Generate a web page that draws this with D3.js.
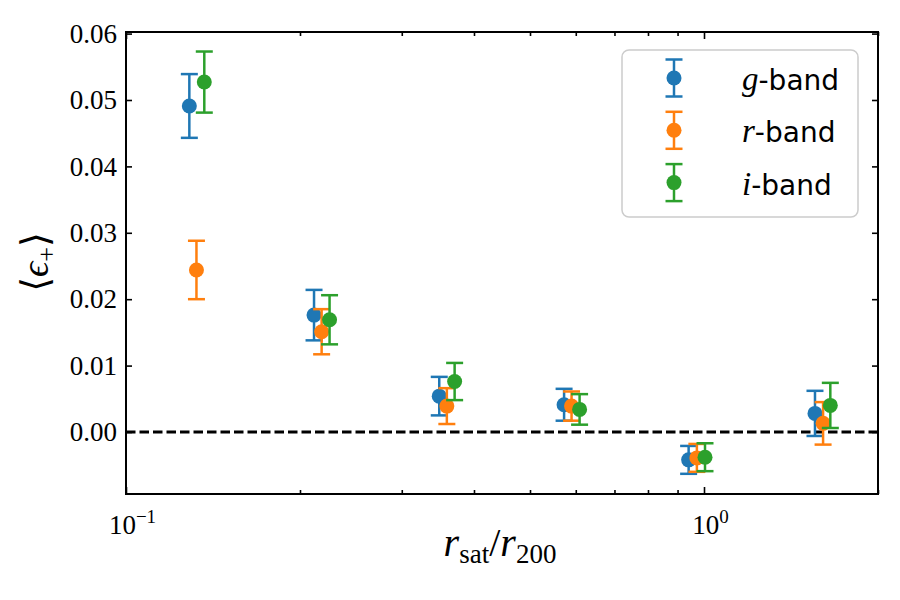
<!DOCTYPE html>
<html>
<head>
<meta charset="utf-8">
<script src="https://d3js.org/d3.v7.min.js"></script>
<style>
  body { margin: 0; background: #fff; }
</style>
</head>
<body>
<svg id="chart" width="900" height="600"></svg>
<script>
// data
const bands = ["g", "r", "i"];
const colors = ["#1f77b4", "#ff7f0e", "#2ca02c"];

const xG = [0.1287, 0.2115, 0.3483, 0.5727, 0.9406, 1.556];
const yG = [0.0491, 0.0176, 0.0054, 0.0041, -0.0042, 0.0028];
const eG = [0.0048, 0.0038, 0.0029, 0.0024, 0.0021, 0.0034];

const xR = [0.1324, 0.2180, 0.3590, 0.5900, 0.9720, 1.607];
const yR = [0.0244, 0.0151, 0.0039, 0.0039, -0.0039, 0.0013];
const eR = [0.0044, 0.0034, 0.0027, 0.0022, 0.0021, 0.0032];

const xI = [0.1366, 0.2250, 0.3703, 0.6092, 1.004, 1.654];
const yI = [0.0527, 0.0169, 0.0076, 0.0034, -0.0038, 0.0040];
const eI = [0.0046, 0.0037, 0.0028, 0.0023, 0.0021, 0.0034];

const yTicks = [0.00, 0.01, 0.02, 0.03, 0.04, 0.05, 0.06];
const xMajor = [0.1, 1];
const xMinor = [0.2, 0.3, 0.4, 0.5, 0.6, 0.7, 0.8, 0.9, 2.0];

const pLeft = 126, pRight = 878, pTop = 32, pBottom = 494;
const serif = "'Liberation Serif', serif";

const svg = d3.select("#chart");
const x = d3.scaleLog().domain([0.1, 2.0]).range([pLeft, pRight]);
const y = d3.scaleLinear().domain([-0.00934, 0.06024]).range([pBottom, pTop]);

const series = [
  {x: xG, y: yG, e: eG},
  {x: xR, y: yR, e: eR},
  {x: xI, y: yI, e: eI}
];

// zero line
svg.append("line")
  .attr("x1", x(0.1)).attr("x2", x(2.0))
  .attr("y1", y(0)).attr("y2", y(0))
  .attr("stroke", "#000").attr("stroke-width", 3.2)
  .attr("stroke-dasharray", "9.5,4");

// error bars + points
series.forEach(function(s, k) {
  const g = svg.append("g");
  const pts = s.x.map((v, i) => ({x: v, y: s.y[i], e: s.e[i]}));
  g.selectAll(".eb").data(pts).enter().append("line")
    .attr("x1", d => x(d.x)).attr("x2", d => x(d.x))
    .attr("y1", d => y(d.y - d.e)).attr("y2", d => y(d.y + d.e))
    .attr("stroke", colors[k]).attr("stroke-width", 2.5);
  [-1, 1].forEach(function(sgn) {
    g.selectAll(".cap" + sgn).data(pts).enter().append("line")
      .attr("x1", d => x(d.x) - 8.5).attr("x2", d => x(d.x) + 8.5)
      .attr("y1", d => y(d.y + sgn * d.e)).attr("y2", d => y(d.y + sgn * d.e))
      .attr("stroke", colors[k]).attr("stroke-width", 2.5);
  });
  g.selectAll("circle").data(pts).enter().append("circle")
    .attr("cx", d => x(d.x)).attr("cy", d => y(d.y))
    .attr("r", 7.5).attr("fill", colors[k]);
});

// axes (ticks pointing inward)
function styleAxis(sel) {
  sel.attr("font-family", null).attr("font-size", null);
  sel.select(".domain").remove();
  sel.selectAll(".tick line").attr("stroke", "#000").attr("stroke-width", 1.6);
  sel.selectAll(".tick text")
    .style("font-family", serif).style("font-size", "27px").attr("fill", "#000");
}

svg.append("g").attr("transform", "translate(0," + pBottom + ")")
  .call(d3.axisBottom(x).tickValues(xMinor).tickSize(-4).tickFormat("")).call(styleAxis);
svg.append("g").attr("transform", "translate(0," + pTop + ")")
  .call(d3.axisTop(x).tickValues(xMinor).tickSize(-4).tickFormat("")).call(styleAxis);
svg.append("g").attr("transform", "translate(0," + pTop + ")")
  .call(d3.axisTop(x).tickValues(xMajor).tickSize(-7).tickFormat("")).call(styleAxis);

const xAx = svg.append("g").attr("transform", "translate(0," + pBottom + ")")
  .call(d3.axisBottom(x).tickValues(xMajor).tickSize(-7).tickPadding(21).tickFormat(""))
  .call(styleAxis);
xAx.selectAll(".tick text").each(function(d) {
  const t = d3.select(this).attr("dx", 6);
  t.append("tspan").text("10");
  t.append("tspan").attr("dy", -11).style("font-size", "19px")
    .text(d < 1 ? "\u22121" : "0");
});

svg.append("g").attr("transform", "translate(" + pLeft + ",0)")
  .call(d3.axisLeft(y).tickValues(yTicks).tickSize(-6).tickPadding(9).tickFormat(d3.format(".2f")))
  .call(styleAxis);
svg.append("g").attr("transform", "translate(" + pRight + ",0)")
  .call(d3.axisRight(y).tickValues(yTicks).tickSize(-6).tickFormat(""))
  .call(styleAxis);

// frame
svg.append("rect")
  .attr("x", pLeft).attr("y", pTop)
  .attr("width", pRight - pLeft).attr("height", pBottom - pTop)
  .attr("fill", "none").attr("stroke", "#000").attr("stroke-width", 2);

// axis labels
const xl = svg.append("text")
  .attr("x", 500).attr("y", 556)
  .attr("text-anchor", "middle")
  .attr("font-family", serif).attr("font-size", 40);
xl.append("tspan").attr("font-style", "italic").text("r");
xl.append("tspan").attr("dy", 7).attr("font-size", 27).text("sat");
xl.append("tspan").attr("dy", -7).text("/");
xl.append("tspan").attr("font-style", "italic").text("r");
xl.append("tspan").attr("dy", 7).attr("font-size", 27).text("200");

const yl = svg.append("text")
  .attr("transform", "translate(48,262) rotate(-90)")
  .attr("text-anchor", "middle")
  .attr("font-family", "'DejaVu Serif', serif").attr("font-size", 38);
yl.append("tspan").text("\u27e8");
yl.append("tspan").attr("font-style", "italic").attr("font-family", serif).text("\u03f5");
yl.append("tspan").attr("dy", 7).attr("font-size", 26).attr("font-family", serif).text("+");
yl.append("tspan").attr("dy", -7).text("\u27e9");

// legend
const legend = svg.append("g");
legend.append("rect")
  .attr("x", 622).attr("y", 50).attr("width", 236).attr("height", 167)
  .attr("rx", 7).attr("fill", "#fff").attr("fill-opacity", 0.8)
  .attr("stroke", "#cccccc").attr("stroke-width", 1.5);

bands.forEach(function(b, k) {
  const cy = 78 + k * 52.3;
  const row = legend.append("g");
  row.append("line").attr("x1", 674).attr("x2", 674)
    .attr("y1", cy - 18.5).attr("y2", cy + 18.5)
    .attr("stroke", colors[k]).attr("stroke-width", 2.5);
  [-18.5, 18.5].forEach(function(o) {
    row.append("line").attr("x1", 665.5).attr("x2", 682.5)
      .attr("y1", cy + o).attr("y2", cy + o)
      .attr("stroke", colors[k]).attr("stroke-width", 2.5);
  });
  row.append("circle").attr("cx", 674).attr("cy", cy).attr("r", 7.5).attr("fill", colors[k]);
  const t = row.append("text").attr("x", 742).attr("y", cy + 12).attr("font-size", 28);
  t.append("tspan").attr("font-family", serif).attr("font-style", "italic")
    .attr("font-size", 33).text(b);
  t.append("tspan").attr("font-family", "'DejaVu Sans', sans-serif").text("-band");
});
</script>
</body>
</html>
